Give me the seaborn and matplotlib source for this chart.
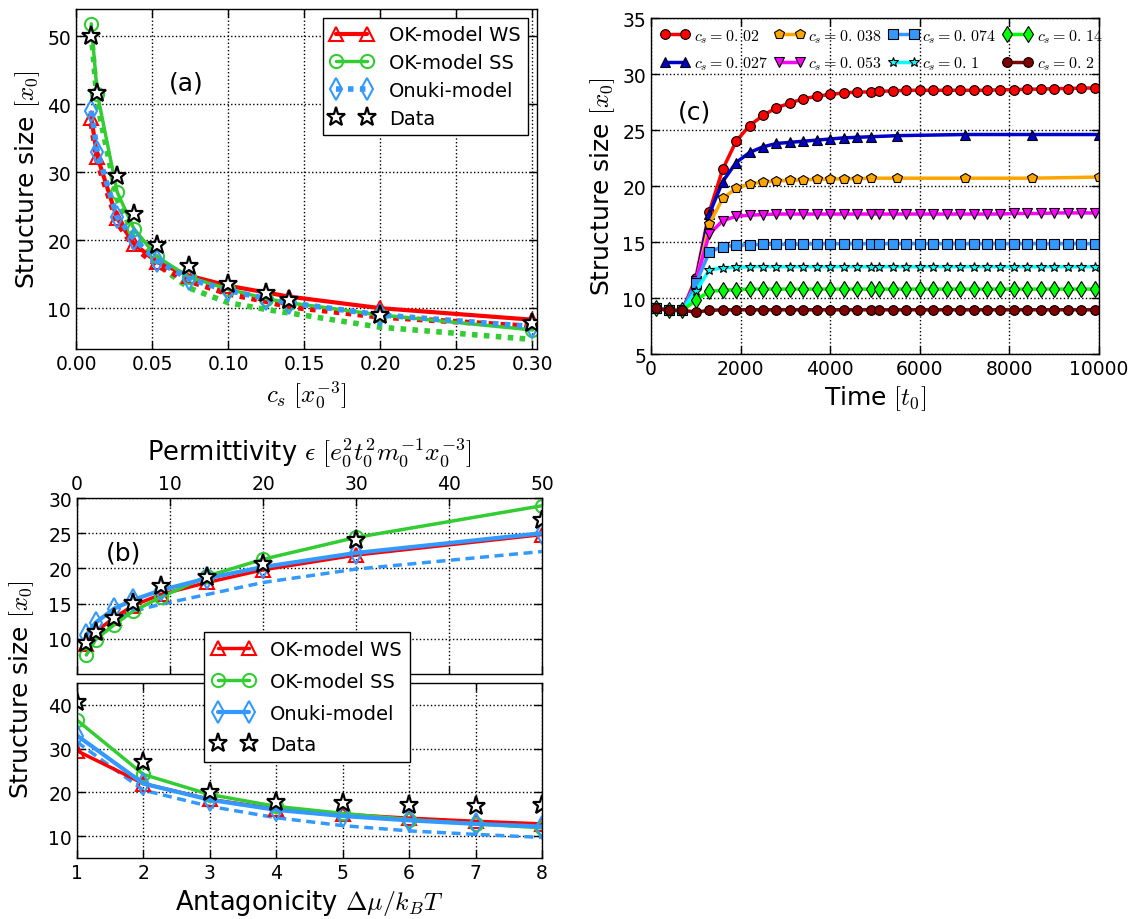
import matplotlib
matplotlib.use("Agg")
import matplotlib.pyplot as plt
import seaborn as sns

# ---------------- data: panel (a) ----------------
cs_a = [0.01, 0.014, 0.027, 0.038, 0.053, 0.074, 0.1, 0.125, 0.14, 0.2, 0.3]
ws_a = [38.0, 32.3, 23.2, 19.5, 16.8, 14.8, 13.3, 12.3, 11.7, 10.0, 8.3]
ws_alt_a = [37.2, 31.5, 22.6, 19.0, 16.3, 14.0, 12.1, 11.0, 10.2, 8.7, 7.3]
ss_a = [51.8, 41.5, 27.1, 21.7, 17.6, 14.6, 12.8, 11.4, 10.8, 9.0, 6.8]
ss_alt_a = [50.5, 40.0, 26.0, 20.8, 16.5, 13.0, 10.8, 9.8, 9.3, 7.2, 5.4]
onuki_a = [39.0, 33.0, 23.4, 20.2, 17.0, 14.3, 12.6, 11.4, 10.8, 9.0, 7.3]
data_a = [50.0, 41.6, 29.4, 23.9, 19.3, 16.2, 13.5, 12.2, 11.2, 9.0, 7.8]

# ---------------- data: panel (b) ----------------
eps_b = [1, 2, 4, 6, 9, 14, 20, 30, 50]
ws_eps = [9.3, 11.0, 13.0, 14.7, 16.3, 18.0, 19.8, 21.9, 24.8]
ss_eps = [7.7, 9.9, 12.0, 13.9, 15.9, 18.9, 21.3, 24.4, 28.9]
onuki_eps = [10.5, 12.3, 14.3, 15.5, 16.9, 18.6, 20.2, 22.2, 25.0]
onuki_alt_eps = [9.6, 11.2, 12.8, 13.9, 14.9, 16.3, 18.0, 19.9, 22.4]
data_eps = [9.4, 11.0, 13.0, 15.1, 17.5, 18.8, 20.6, 24.0, 26.9]

dmu_b = [1, 2, 3, 4, 5, 6, 7, 8]
ws_dmu = [29.5, 22.0, 18.4, 16.2, 15.0, 14.1, 13.4, 12.8]
ss_dmu = [36.5, 24.1, 19.5, 16.8, 15.2, 13.8, 12.8, 11.9]
onuki_dmu = [33.0, 22.0, 18.3, 16.0, 14.6, 13.6, 12.8, 12.2]
onuki_alt_dmu = [31.5, 20.5, 16.8, 14.2, 12.4, 11.2, 10.4, 9.7]
data_dmu = [40.6, 27.0, 20.2, 17.9, 17.5, 17.1, 16.8, 17.1]

# ---------------- data: panel (c) ----------------
t_full = [100, 400, 700, 1000, 1300, 1600, 1900, 2200, 2500, 2800, 3100, 3400,
          3700, 4000, 4300, 4600, 4900, 5100, 5400, 5700, 6000, 6300, 6600, 6900,
          7200, 7500, 7800, 8100, 8400, 8700, 9000, 9300, 9600, 9900]
t_sparse = [100, 400, 700, 1000, 1300, 1600, 1900, 2200, 2500, 2800, 3100, 3400,
            3700, 4000, 4300, 4600, 4900, 5500, 7000, 8500, 10000]
cs_labels = ["$c_s = 0.\\,02$", "$c_s = 0.\\,027$", "$c_s = 0.\\,038$", "$c_s = 0.\\,053$",
             "$c_s = 0.\\,074$", "$c_s = 0.\\,1$", "$c_s = 0.\\,14$", "$c_s = 0.\\,2$"]
y_002 = [9.1, 8.9, 8.9, 11.8, 17.7, 21.5, 24.0, 25.4, 26.3, 27.0, 27.4, 27.8,
         28.0, 28.2, 28.3, 28.4, 28.4, 28.45, 28.5, 28.55, 28.55, 28.55, 28.55, 28.55,
         28.55, 28.55, 28.6, 28.6, 28.65, 28.65, 28.7, 28.7, 28.75, 28.75]
y_0027 = [9.1, 8.9, 8.9, 11.5, 17.5, 20.4, 22.1, 23.0, 23.5, 23.8, 23.9, 24.0,
          24.1, 24.2, 24.3, 24.35, 24.4, 24.5, 24.6, 24.6, 24.6]
y_0038 = [9.1, 8.9, 8.9, 11.3, 16.6, 18.9, 19.8, 20.2, 20.35, 20.45, 20.5, 20.55,
          20.6, 20.6, 20.65, 20.65, 20.7, 20.7, 20.7, 20.7, 20.8]
y_0053 = [9.1, 8.9, 8.9, 11.5, 15.7, 16.9, 17.3, 17.4, 17.45, 17.5, 17.5, 17.5,
          17.5, 17.5, 17.5, 17.5, 17.5, 17.5, 17.5, 17.5, 17.5, 17.5, 17.5, 17.5,
          17.5, 17.5, 17.5, 17.55, 17.55, 17.55, 17.6, 17.6, 17.6, 17.6]
y_0074 = [9.1, 8.9, 8.9, 11.3, 14.1, 14.6, 14.7, 14.75, 14.8, 14.8, 14.8, 14.8,
          14.85, 14.85, 14.85, 14.85, 14.85, 14.85, 14.85, 14.85, 14.85, 14.85, 14.85, 14.85,
          14.85, 14.85, 14.85, 14.85, 14.85, 14.85, 14.85, 14.85, 14.85, 14.85]
y_01 = [9.1, 8.9, 8.9, 10.6, 12.5, 12.7, 12.75, 12.8, 12.8, 12.8, 12.8, 12.8,
        12.8, 12.8, 12.8, 12.8, 12.8, 12.8, 12.8, 12.8, 12.8, 12.8, 12.8, 12.8,
        12.8, 12.8, 12.8, 12.8, 12.8, 12.8, 12.8, 12.8, 12.8, 12.8]
y_014 = [9.1, 8.9, 8.9, 9.8, 10.6, 10.7, 10.75, 10.8, 10.8, 10.8, 10.8, 10.8,
         10.8, 10.8, 10.8, 10.8, 10.8, 10.8, 10.8, 10.8, 10.8, 10.8, 10.8, 10.8,
         10.8, 10.8, 10.8, 10.8, 10.8, 10.8, 10.8, 10.8, 10.8, 10.8]
y_02 = [9.1, 8.9, 8.9, 8.75, 8.9, 8.95, 8.95, 8.95, 8.95, 8.95, 8.95, 8.95,
        8.95, 8.95, 8.95, 8.95, 8.95, 8.95, 8.95, 8.95, 8.95, 8.95, 8.95, 8.95,
        8.95, 8.95, 8.95, 8.95, 8.95, 8.95, 8.95, 8.95, 8.95, 8.95]

legend_ab = ["OK-model WS", "OK-model SS", "Onuki-model", "Data"]

RED = "#ff0000"
GREEN = "#33cc33"
BLUE = "#3399ff"
DOT = (0, (1, 1.15))
DASH = (0, (2.6, 1.6))

sns.set_style("white")
plt.rcParams.update({
    "font.family": ["DejaVu Sans"],
    "mathtext.fontset": "cm",
    "xtick.direction": "in", "ytick.direction": "in",
    "xtick.top": True, "ytick.right": True,
    "xtick.bottom": True, "ytick.left": True,
    "xtick.major.size": 6, "ytick.major.size": 6,
    "xtick.major.width": 1, "ytick.major.width": 1,
    "xtick.labelsize": 13.5, "ytick.labelsize": 13.5,
    "xtick.color": "black", "ytick.color": "black",
    "axes.labelsize": 18, "axes.labelcolor": "black", "text.color": "black",
    "axes.edgecolor": "black", "axes.linewidth": 1.0,
    "grid.color": "black", "grid.linestyle": ":", "grid.linewidth": 1.0,
    "legend.fancybox": False, "legend.edgecolor": "black", "legend.framealpha": 1,
})

MS_T, MS_O, MS_D, MS_S = 9.5, 9.5, 11, 14


def draw(ax, x, y, **kw):
    sns.lineplot(x=x, y=y, ax=ax, sort=False, estimator=None, **kw)
    return ax.lines[-1]


def models(ax, x, ws, ss, on, data, on_alt=None, ws_alt=None, ss_alt=None, panel_a=False):
    if ss_alt is not None:
        draw(ax, x, ss_alt, color=GREEN, linewidth=4, linestyle=DOT)
    if ws_alt is not None:
        draw(ax, x, ws_alt, color=RED, linewidth=4, linestyle=DOT)
    if on_alt is not None:
        draw(ax, x, on_alt, color=BLUE, linewidth=2.5, linestyle=DASH)
    h1 = draw(ax, x, ws, color=RED, linewidth=3 if panel_a else 2.5, marker="^", markersize=MS_T,
              markerfacecolor="none", markeredgecolor=RED, markeredgewidth=1.5)
    h2 = draw(ax, x, ss, color=GREEN, linewidth=2.5, marker="o", markersize=MS_O,
              markerfacecolor="none", markeredgecolor=GREEN, markeredgewidth=1.5)
    if panel_a:
        h3 = draw(ax, x, on, color=BLUE, linewidth=4, linestyle=DOT, marker="d", markersize=MS_D,
                  markerfacecolor="none", markeredgecolor=BLUE, markeredgewidth=1.5)
    else:
        h3 = draw(ax, x, on, color=BLUE, linewidth=3, marker="d", markersize=MS_D,
                  markerfacecolor="none", markeredgecolor=BLUE, markeredgewidth=1.5)
    h4 = draw(ax, x, data, color="black", linestyle="none", marker="*", markersize=MS_S,
              markerfacecolor="white", markeredgecolor="black", markeredgewidth=1.6)
    return [h1, h2, h3, h4]


fig = plt.figure(figsize=(11.33, 9.2), dpi=100)

# ---------------- panel (a) ----------------
ax_a = fig.add_axes([0.0671, 0.6196, 0.4069, 0.3696])
hs_a = models(ax_a, cs_a, ws_a, ss_a, onuki_a, data_a, ws_alt=ws_alt_a, ss_alt=ss_alt_a, panel_a=True)
ax_a.set_xlim(0, 0.303)
ax_a.set_ylim(4, 54)
ax_a.set_xticks([0.0, 0.05, 0.1, 0.15, 0.2, 0.25, 0.3])
ax_a.set_xticklabels(["0.00", "0.05", "0.10", "0.15", "0.20", "0.25", "0.30"])
ax_a.set_yticks([10, 20, 30, 40, 50])
ax_a.grid(True)
ax_a.set_xlabel("$c_s\\ [x_0^{-3}]$")
ax_a.set_ylabel("Structure size $[x_0]$")
ax_a.text(0.24, 0.785, "(a)", transform=ax_a.transAxes, fontsize=18, ha="center", va="center")
ax_a.legend(hs_a, legend_ab, loc="upper right", numpoints=2,
            fontsize=14, handlelength=2.2, borderaxespad=0.45, labelspacing=0.45)

# ---------------- panel (c) ----------------
ax_c = fig.add_axes([0.5746, 0.6141, 0.3954, 0.3652])
specs_c = [
    (t_full, y_002, "#ff0000", "o", 7),
    (t_sparse, y_0027, "#0000cc", "^", 7),
    (t_sparse, y_0038, "#ffa500", "p", 7),
    (t_full, y_0053, "#ff00ff", "v", 7),
    (t_full, y_0074, "#3399ff", "s", 7),
    (t_full, y_01, "#00ffff", "*", 7.5),
    (t_full, y_014, "#00ff00", "d", 8),
    (t_full, y_02, "#800000", "o", 7),
]
handles_c = []
for (tx, yy, col, mk, ms) in specs_c:
    handles_c.append(draw(ax_c, tx, yy, color=col, linewidth=2.5, marker=mk, markersize=ms,
                          markerfacecolor=col, markeredgecolor="black", markeredgewidth=0.8))
ax_c.set_xlim(0, 10000)
ax_c.set_ylim(5, 35)
ax_c.set_xticks([0, 2000, 4000, 6000, 8000, 10000])
ax_c.set_yticks([5, 10, 15, 20, 25, 30, 35])
ax_c.grid(True)
ax_c.set_xlabel("Time $[t_0]$")
ax_c.set_ylabel("Structure size $[x_0]$")
ax_c.text(0.098, 0.723, "(c)", transform=ax_c.transAxes, fontsize=18, ha="center", va="center")
ax_c.legend(handles_c, cs_labels, loc="upper left", ncol=4, frameon=False, numpoints=2,
            fontsize=11.5, handlelength=1.9, handletextpad=0.25, columnspacing=0.35,
            borderaxespad=0.15, labelspacing=0.6)

# ---------------- panel (b) upper ----------------
ax_bu = fig.add_axes([0.068, 0.2663, 0.4104, 0.1913])
hs_b = models(ax_bu, eps_b, ws_eps, ss_eps, onuki_eps, data_eps, on_alt=onuki_alt_eps)
ax_bu.set_xlim(0, 50)
ax_bu.set_ylim(5, 30)
ax_bu.set_xticks([0, 10, 20, 30, 40, 50])
ax_bu.set_yticks([10, 15, 20, 25, 30])
ax_bu.grid(True)
ax_bu.tick_params(axis="x", labeltop=True, labelbottom=False)
ax_bu.xaxis.set_label_position("top")
ax_bu.set_xlabel("Permittivity $\\epsilon\\ [e_0^2 t_0^2 m_0^{-1} x_0^{-3}]$", fontsize=18.5, labelpad=10)
ax_bu.set_ylabel("")
ax_bu.text(0.099, 0.69, "(b)", transform=ax_bu.transAxes, fontsize=18, ha="center", va="center")

# ---------------- panel (b) lower ----------------
ax_bl = fig.add_axes([0.068, 0.0663, 0.4104, 0.1902])
models(ax_bl, dmu_b, ws_dmu, ss_dmu, onuki_dmu, data_dmu, on_alt=onuki_alt_dmu)
ax_bl.set_xlim(1, 8)
ax_bl.set_ylim(5, 45)
ax_bl.set_xticks([1, 2, 3, 4, 5, 6, 7, 8])
ax_bl.set_yticks([10, 20, 30, 40])
ax_bl.grid(True)
ax_bl.set_xlabel("Antagonicity $\\Delta\\mu/k_BT$", fontsize=18.5)
ax_bl.set_ylabel("")

fig.text(0.019, 0.25, "Structure size $[x_0]$", rotation=90, fontsize=18,
         ha="center", va="center")
fig.legend(hs_b, legend_ab, loc="upper center",
           bbox_to_anchor=(0.271, 0.322), numpoints=2, fontsize=14,
           handlelength=2.2, labelspacing=0.65)

fig.savefig("out.png", dpi=100)
